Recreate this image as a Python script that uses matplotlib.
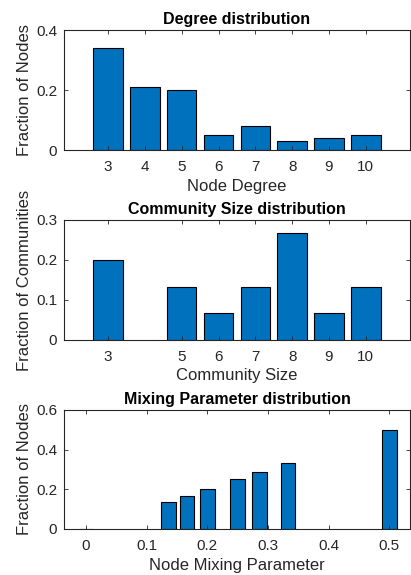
import matplotlib
matplotlib.use("Agg")
import matplotlib.pyplot as plt

plt.rcParams['font.family'] = ['Liberation Sans', 'DejaVu Sans']

# data
degree = [3, 4, 5, 6, 7, 8, 9, 10]
degree_frac = [0.34, 0.21, 0.20, 0.05, 0.08, 0.03, 0.04, 0.05]

comm_size = [3, 5, 6, 7, 8, 9, 10]
comm_frac = [0.2, 0.1333, 0.0667, 0.1333, 0.2667, 0.0667, 0.1333]

mixing = [0, 0.1364, 0.1667, 0.2, 0.25, 0.2857, 0.3333, 0.5]
mixing_frac = [0, 0.1364, 0.1667, 0.2, 0.25, 0.2857, 0.3333, 0.5]

BLUE = '#0072BD'
AXC = '#262626'

fig = plt.figure(figsize=(4.11, 5.75), dpi=100)


def style(ax):
    for s in ax.spines.values():
        s.set_color(AXC)
        s.set_linewidth(0.8)
    ax.tick_params(direction='in', top=True, right=True, length=3,
                   width=0.6, colors=AXC, labelsize=11, pad=5)
    ax.tick_params(axis='x', pad=7)
    for lab in ax.get_xticklabels() + ax.get_yticklabels():
        lab.set_color(AXC)


# a) degree distribution
ax = fig.add_axes([0.1557, 0.7391, 0.8418, 0.2087])
ax.bar(degree, degree_frac, width=0.8, color=BLUE, edgecolor='black', linewidth=0.8)
ax.set_xlim(1.8, 11.2)
ax.set_ylim(0, 0.4)
ax.set_xticks(degree)
ax.set_yticks([0, 0.2, 0.4])
ax.set_yticklabels(['0', '0.2', '0.4'])
ax.set_title('Degree distribution', fontsize=11.5, fontweight='bold', pad=4)
ax.set_xlabel('Node Degree', fontsize=12, color=AXC, labelpad=4)
ax.set_ylabel('Fraction of Nodes', fontsize=12, color=AXC, labelpad=3)
style(ax)

# b) community size distribution
ax = fig.add_axes([0.1557, 0.4087, 0.8418, 0.2087])
ax.bar(comm_size, comm_frac, width=0.8, color=BLUE, edgecolor='black', linewidth=0.8)
ax.set_xlim(1.8, 11.2)
ax.set_ylim(0, 0.3)
ax.set_xticks(comm_size)
ax.set_yticks([0, 0.1, 0.2, 0.3])
ax.set_yticklabels(['0', '0.1', '0.2', '0.3'])
ax.set_title('Community Size distribution', fontsize=11.5, fontweight='bold', pad=4)
ax.set_xlabel('Community Size', fontsize=12, color=AXC, labelpad=3)
ax.set_ylabel('Fraction of Communities', fontsize=12, color=AXC, labelpad=3)
style(ax)

# c) mixing parameter distribution
ax = fig.add_axes([0.1557, 0.08, 0.8418, 0.207])
ax.bar(mixing, mixing_frac, width=0.024, color=BLUE, edgecolor='black', linewidth=0.8)
ax.set_xlim(-0.036, 0.534)
ax.set_ylim(0, 0.6)
ax.set_xticks([0, 0.1, 0.2, 0.3, 0.4, 0.5])
ax.set_xticklabels(['0', '0.1', '0.2', '0.3', '0.4', '0.5'])
ax.set_yticks([0, 0.2, 0.4, 0.6])
ax.set_yticklabels(['0', '0.2', '0.4', '0.6'])
ax.set_title('Mixing Parameter distribution', fontsize=11.5, fontweight='bold', pad=4)
ax.set_xlabel('Node Mixing Parameter', fontsize=12, color=AXC, labelpad=4)
ax.set_ylabel('Fraction of Nodes', fontsize=12, color=AXC, labelpad=3)
style(ax)

fig.savefig('out.png', dpi=100)
